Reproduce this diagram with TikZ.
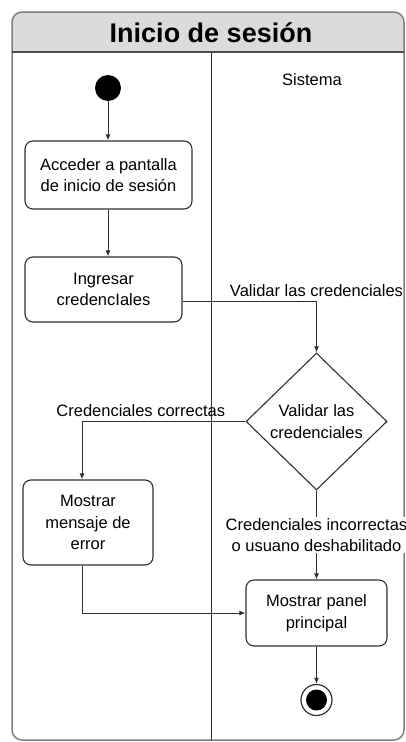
\documentclass[tikz,border=0pt]{standalone}
\usepackage{fontspec}
\setmainfont{Liberation Sans}
\usepackage{tikz}
\usetikzlibrary{arrows.meta, positioning, shapes.geometric, calc}
\definecolor{laneframe}{HTML}{808080}
\definecolor{lanehead}{HTML}{DBDBDB}
\definecolor{actline}{HTML}{303030}

\begin{document}
\begin{tikzpicture}[x=1pt, y=-1pt,
  every node/.style={font=\fontsize{16.5}{21.5}\selectfont, text=black},
  activity/.style={draw=actline, line width=1.1pt, rounded corners=8pt, align=center, inner sep=0pt},
  decision/.style={draw=actline, line width=1.1pt, diamond, minimum width=141pt, minimum height=137pt, inner sep=0pt},
  flow/.style={draw=actline, line width=1pt, -{Latex[length=6pt,width=5pt]}},
  guard/.style={align=center, inner sep=1pt}]
  \useasboundingbox (0,0) rectangle (406,742);
  % swimlane frame
  \begin{scope}
    \clip[rounded corners=10pt] (12,12) rectangle (404,740);
    \fill[lanehead] (12,12) rectangle (404,52);
  \end{scope}
  \draw[laneframe, line width=1.5pt, rounded corners=10pt] (12,12) rectangle (404,740);
  \draw[laneframe!60!black, line width=2pt] (12,52) -- (404,52);
  \draw[actline, line width=1pt] (211,52) -- (211,740);
  \node[font=\fontsize{27}{32}\selectfont\bfseries] (titulo) at (211,33) {Inicio de sesión};
  \node (sistema) at (312,80) {Sistema};

  % activities
  \node[circle, fill=black, minimum size=26pt, inner sep=0pt] (inicio) at (108,88) {};
  \node[activity, minimum width=167pt, minimum height=68pt] (acceder) at (108.5,175) {Acceder a pantalla\\de inicio de sesión};
  \node[activity, minimum width=157pt, minimum height=65pt] (ingresar) at (103.5,289.5) {Ingresar\\credencIales};
  \node[decision] (validar) at (316.5,421.5) {};
  \node[guard] (validartxt) at (validar) {Validar las\\credenciales};
  \node[activity, minimum width=130pt, minimum height=85pt] (error) at (88,522.5) {Mostrar\\mensaje de\\error};
  \node[activity, minimum width=141pt, minimum height=66pt] (panel) at (316.5,613) {Mostrar panel\\principal};
  \node[circle, draw=actline, line width=1.2pt, minimum size=31pt, inner sep=0pt] (fin) at (316.5,700) {};
  \node[circle, fill=black, minimum size=21pt, inner sep=0pt] (finpunto) at (fin) {};

  % flows
  \draw[flow] (inicio) -- (inicio |- acceder.north);
  \draw[flow] (inicio |- acceder.south) -- (inicio |- ingresar.north);
  \draw[flow] ([yshift=-12pt]ingresar.east) -| (validar.north)
    node[pos=0.5, above, yshift=1pt] (lblvalidar) {Validar las credenciales};
  \draw[flow] (validar.west) -| ([xshift=-6pt]error.north)
    node[pos=0.32, above, yshift=1pt] (lblok) {Credenciales correctas};
  \draw[flow] (validar.south) -- (panel.north)
    node[midway, guard, fill=white] (lblmal) {Credenciales incorrectas\\o usuano deshabilitado};
  \draw[flow] ([xshift=-6pt]error.south) |- (panel.west);
  \draw[flow] (panel.south) -- (fin.north);
\end{tikzpicture}
\end{document}
